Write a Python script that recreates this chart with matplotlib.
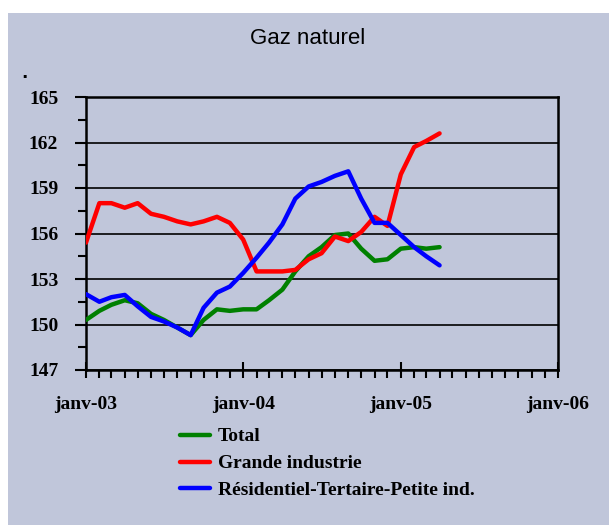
import matplotlib
matplotlib.use("Agg")
import matplotlib.pyplot as plt
import matplotlib.dates as mdates
from matplotlib.patches import Rectangle
from matplotlib.ticker import MultipleLocator
import pandas as pd

# ---- data ----
start_month = "2003-01-01"
n_months = 28
total = [150.3, 150.9, 151.3, 151.6, 151.4, 150.7, 150.3, 149.8, 149.3, 150.3,
         151.0, 150.9, 151.0, 151.0, 151.6, 152.3, 153.5, 154.5, 155.1, 155.9,
         156.0, 155.0, 154.2, 154.3, 155.0, 155.1, 155.0, 155.1]
grande = [155.4, 158.0, 158.0, 157.7, 158.0, 157.3, 157.1, 156.8, 156.6, 156.8,
          157.1, 156.7, 155.6, 153.5, 153.5, 153.5, 153.6, 154.3, 154.7, 155.8,
          155.5, 156.1, 157.1, 156.5, 159.9, 161.7, 162.1, 162.6]
residentiel = [152.0, 151.5, 151.8, 151.95, 151.2, 150.5, 150.2, 149.8, 149.3, 151.1,
               152.1, 152.5, 153.4, 154.4, 155.4, 156.6, 158.3, 159.1, 159.4, 159.8,
               160.1, 158.3, 156.7, 156.7, 155.9, 155.1, 154.5, 153.9]
series_labels = ["Total", "Grande industrie", "Résidentiel-Tertaire-Petite ind."]
series_colors = ["#008000", "#FF0000", "#0000FF"]
xtick_labels = ["janv-03", "janv-04", "janv-05", "janv-06"]
xtick_dates = ["2003-01-01", "2004-01-01", "2005-01-01", "2006-01-01"]
ytick_values = [147, 150, 153, 156, 159, 162, 165]
title = "Gaz naturel"

dates = pd.date_range(start_month, periods=n_months, freq="MS")

W, H = 609, 525
bg = "#C0C6DA"
fig = plt.figure(figsize=(W / 100, H / 100), dpi=100, facecolor="white")
fig.patches.append(Rectangle((8 / W, 0), 1 - 8 / W, 1 - 13 / H, transform=fig.transFigure,
                             facecolor=bg, edgecolor="none", zorder=-10))

ax = fig.add_axes([86 / W, 1 - 370 / H, (558 - 86) / W, (370 - 97) / H])
ax.set_facecolor(bg)

for vals, lab, col in zip([total, grande, residentiel], series_labels, series_colors):
    ax.plot(dates, vals, color=col, lw=3.2, label=lab, solid_capstyle="round",
            solid_joinstyle="round", zorder=3)

ax.set_ylim(ytick_values[0], ytick_values[-1])
ax.set_yticks(ytick_values)
ax.yaxis.set_minor_locator(MultipleLocator(1.5))
ax.grid(axis="y", which="major", color="black", lw=1.2, zorder=1)

xd = pd.to_datetime(xtick_dates)
ax.set_xlim(xd[0], xd[-1])
ax.set_xticks(xd)
ax.set_xticklabels(xtick_labels)
ax.xaxis.set_minor_locator(mdates.MonthLocator())

serif = ["Liberation Serif", "DejaVu Serif"]
for lbl in ax.get_xticklabels() + ax.get_yticklabels():
    lbl.set_family(serif)
    lbl.set_fontweight("bold")
    lbl.set_fontsize(14)

ax.tick_params(axis="x", which="major", direction="inout", length=12, width=1.5, pad=13)
ax.tick_params(axis="x", which="minor", direction="out", length=6, width=1.5)
ax.tick_params(axis="y", which="major", direction="out", length=8, width=1.5, pad=12)
ax.tick_params(axis="y", which="minor", direction="out", length=6, width=1.5)

for s in ax.spines.values():
    s.set_color("black")
    s.set_linewidth(1.8)

fig.text(308 / W, 1 - 39 / H, title, ha="center", va="center",
         family=["Liberation Sans", "DejaVu Sans"], fontsize=16)
fig.text(24 / W, 1 - 73 / H, ".", ha="center", va="center", fontsize=12, fontweight="bold")

leg = fig.legend(loc="upper left", bbox_to_anchor=(172 / W, 1 - 420 / H),
                 frameon=False, handlelength=1.55, handletextpad=0.4,
                 labelspacing=0.48, borderaxespad=0,
                 prop={"family": serif, "weight": "bold", "size": 14})

fig.savefig("out.png", dpi=100, facecolor="white")
